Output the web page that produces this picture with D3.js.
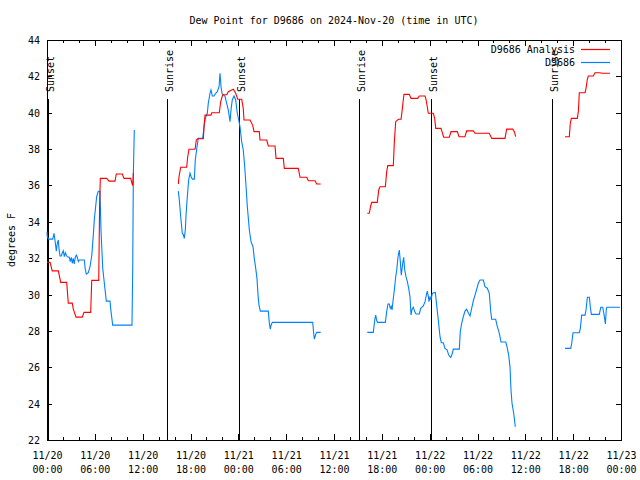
<!DOCTYPE html>
<html><head><meta charset="utf-8">
<script src="https://cdn.jsdelivr.net/npm/d3@7"></script>
<style>
body{margin:0;background:#fff;}
text{font-family:"DejaVu Sans Mono","Liberation Mono",monospace;font-size:10px;fill:#000;}
</style></head>
<body><svg id="c" width="640" height="480"></svg>
<script>
// ---- data (hours since 2024-11-20 00:00 UTC, degrees F) ----
const title = "Dew Point for D9686 on 2024-Nov-20 (time in UTC)";
const yLabel = "degrees F";
const seriesNames = ["D9686 Analysis", "D9686"];
const yTicks = [22,24,26,28,30,32,34,36,38,40,42,44];
const xMajorTicks = [0,6,12,18,24,30,36,42,48,54,60,66,72];
const xMinorTicks = [2,4,8,10,14,16,20,22,26,28,32,34,38,40,44,46,50,52,56,58,62,64,68,70];
const sunEvents = [
  {h:0.12, label:"Sunset"},{h:15.09, label:"Sunrise"},{h:24.12, label:"Sunset"},
  {h:39.18, label:"Sunrise"},{h:48.21, label:"Sunset"},{h:63.31, label:"Sunrise"}
];

const analysisSeg1 = [[0,31.77],[0.38,31.77],[0.66,31.3],[1.42,31.3],[1.72,30.67],[2.47,30.67],[2.67,29.53],[3.17,29.53],[3.3,29.2],[3.64,28.76],[4.43,28.76],[4.64,29.02],[5.48,29.02],[5.61,30.78],[6.49,30.78],[6.6,35.0],[6.69,36.39],[7.49,36.39],[7.78,36.24],[8.53,36.24],[8.69,36.63],[9.45,36.63],[9.66,36.39],[10.5,36.39],[10.66,36.12],[10.75,36.0],[10.83,36.7]];
const analysisSeg2 = [[16.47,36.08],[16.56,36.48],[16.77,37.0],[17.52,37.0],[17.65,37.58],[17.81,37.99],[18.57,37.99],[18.73,38.5],[18.9,38.57],[19.61,38.57],[19.73,39.42],[19.82,39.87],[20.57,39.87],[20.66,40.0],[21.61,40.0],[21.79,40.61],[22.04,40.99],[22.54,40.99],[22.74,41.16],[23.17,41.25],[23.37,41.29],[23.67,41.07],[23.92,40.74],[24.42,40.74],[24.62,40.24],[24.71,39.6],[25.46,39.6],[25.8,39.32],[25.97,38.96],[26.63,38.96],[26.72,38.5],[27.56,38.5],[27.76,38.17],[28.6,38.17],[28.73,37.49],[29.64,37.49],[29.77,36.94],[31.52,36.94],[31.74,36.45],[32.58,36.45],[32.78,36.26],[33.62,36.26],[33.83,36.08],[34.33,36.08]];
const analysisSeg3 = [[40.18,34.47],[40.43,34.47],[40.6,34.87],[40.73,35.07],[41.43,35.07],[41.61,35.75],[41.77,35.93],[42.44,35.93],[42.61,36.76],[42.74,37.09],[43.44,37.09],[43.57,38.41],[43.74,39.51],[44.07,39.64],[44.41,39.64],[44.53,40.06],[44.69,40.7],[44.78,41.01],[45.45,41.01],[45.66,40.79],[46.5,40.79],[46.7,40.92],[47.42,40.92],[47.54,40.74],[47.7,40.33],[47.83,39.97],[48.46,39.97],[48.63,39.69],[48.76,39.14],[49.42,39.14],[49.55,38.96],[49.76,38.65],[50.46,38.65],[50.68,38.96],[51.47,38.96],[51.68,38.68],[52.43,38.68],[52.64,39.0],[53.48,39.0],[53.69,38.87],[55.48,38.87],[55.78,38.59],[57.45,38.59],[57.66,39.1],[58.42,39.1],[58.62,38.96],[58.79,38.68]];
const analysisSeg4 = [[64.98,38.68],[65.52,38.68],[65.64,39.42],[65.77,39.69],[66.52,39.69],[66.65,40.06],[66.77,41.1],[67.49,41.1],[67.61,41.34],[67.78,41.84],[67.9,42.02],[68.53,42.02],[68.74,42.2],[69.37,42.2],[69.58,42.17],[70.62,42.17]];

const obsSeg1 = [[0,33.46],[0.04,33.18],[0.21,33.05],[0.72,33.05],[0.88,33.37],[1.0,33.0],[1.17,32.39],[1.29,32.82],[1.42,33.0],[1.5,32.54],[1.63,32.12],[1.8,32.12],[1.92,32.3],[2.04,32.41],[2.17,32.08],[2.3,32.3],[2.42,32.16],[2.55,32.08],[2.8,32.05],[2.92,31.81],[3.05,32.05],[3.17,31.72],[3.3,31.99],[3.42,31.68],[3.55,32.05],[3.68,32.17],[3.8,32.05],[3.93,31.81],[4.05,31.9],[4.68,31.9],[4.8,31.39],[4.93,31.13],[5.18,31.2],[5.39,31.53],[5.61,32.12],[5.81,33.27],[5.93,34.1],[6.11,34.87],[6.23,35.38],[6.43,35.68],[6.65,35.68],[6.77,33.55],[6.99,31.44],[7.15,30.8],[7.31,30.16],[7.44,29.64],[7.9,29.64],[8.03,29.06],[8.15,28.64],[8.24,28.32],[10.66,28.32],[10.75,31.35],[10.83,36.57],[10.95,39.05]];
const obsSeg2 = [[16.47,35.69],[16.6,35.2],[16.77,34.28],[16.97,33.37],[17.1,33.3],[17.22,33.09],[17.35,33.55],[17.44,34.37],[17.6,35.38],[17.77,36.3],[17.94,36.67],[18.1,36.45],[18.23,36.35],[18.48,36.35],[18.6,37.4],[18.82,38.13],[18.98,38.59],[19.53,38.59],[19.69,39.23],[19.86,39.69],[20.11,39.97],[20.23,40.52],[20.45,41.07],[20.57,41.25],[20.74,40.92],[20.95,40.92],[21.16,41.07],[21.36,41.16],[21.58,41.43],[21.7,42.17],[21.83,41.43],[21.95,41.07],[22.17,40.97],[22.33,40.9],[22.54,40.52],[22.74,40.15],[22.96,39.51],[23.08,40.15],[23.24,40.7],[23.46,40.92],[23.67,40.7],[23.87,39.97],[24.05,39.6],[24.21,39.23],[24.42,38.41],[24.62,37.95],[24.8,37.03],[24.96,36.0],[25.13,34.83],[25.38,33.55],[25.59,32.91],[25.84,32.63],[26.0,31.99],[26.18,31.44],[26.34,30.89],[26.47,29.97],[26.59,29.42],[26.76,29.09],[27.76,29.09],[27.89,28.42],[28.01,28.1],[28.1,28.3],[28.26,28.47],[33.33,28.47],[33.45,27.87],[33.53,27.55],[33.7,27.8],[33.83,27.92],[34.33,27.92]];
const obsSeg3 = [[40.18,27.92],[40.93,27.92],[41.11,28.6],[41.23,28.87],[41.36,28.56],[41.48,28.47],[42.44,28.47],[42.61,29.06],[42.77,29.48],[42.94,29.48],[43.06,29.24],[43.19,29.35],[43.28,29.15],[43.44,29.79],[43.57,30.25],[43.74,30.98],[43.87,31.35],[44.03,32.08],[44.19,32.45],[44.32,31.81],[44.44,31.07],[44.62,31.72],[44.74,32.05],[44.87,31.35],[45.03,30.98],[45.2,30.71],[45.37,30.34],[45.53,29.88],[45.66,28.87],[45.79,29.19],[45.95,29.3],[46.12,29.06],[46.29,28.93],[46.7,28.93],[46.88,29.24],[47.2,29.37],[47.42,29.61],[47.58,29.97],[47.7,30.19],[47.83,29.9],[47.92,29.61],[48.04,29.9],[48.17,29.7],[48.33,30.07],[48.71,30.12],[48.88,29.42],[49.08,28.6],[49.3,27.68],[49.46,27.35],[49.71,27.35],[49.92,27.04],[50.18,26.96],[50.39,26.67],[50.64,26.54],[50.8,26.7],[50.97,27.0],[51.72,27.0],[51.84,27.96],[52.02,28.42],[52.22,28.78],[52.43,29.09],[52.64,29.19],[52.84,29.0],[53.06,28.82],[53.27,29.24],[53.48,29.66],[53.69,29.97],[53.9,30.29],[54.1,30.62],[54.32,30.8],[54.73,30.8],[54.94,30.43],[55.23,30.35],[55.48,30.07],[55.66,29.06],[55.78,28.64],[56.28,28.64],[56.49,28.23],[56.74,27.87],[56.95,27.39],[57.54,27.39],[57.7,27.13],[57.91,26.67],[58.08,26.0],[58.2,24.75],[58.33,24.02],[58.54,23.47],[58.74,22.73]];
const obsSeg4 = [[64.98,27.04],[65.69,27.04],[65.82,27.32],[65.98,27.9],[66.77,27.9],[66.9,28.14],[67.07,28.87],[67.49,28.87],[67.61,29.15],[67.78,29.85],[68.03,29.85],[68.15,29.33],[68.28,28.91],[69.28,28.91],[69.46,29.3],[69.71,29.3],[69.87,28.91],[70.04,28.38],[70.17,29.27],[70.29,29.3],[71.88,29.3]];

const analysisSegments = [analysisSeg1, analysisSeg2, analysisSeg3, analysisSeg4];
const obsSegments = [obsSeg1, obsSeg2, obsSeg3, obsSeg4];
const colors = ["#ff0000", "#0080ff"];

// ---- layout ----
const L = 47, R = 621, T = 40, B = 440;
const svg = d3.select("#c");
const x = d3.scaleLinear().domain([0,72]).range([L,R]);
const y = d3.scaleLinear().domain([22,44]).range([B,T]);

// title
svg.append("text").attr("x",334).attr("y",23.5).attr("text-anchor","middle").text(title);

// axes (ticks point inward, gnuplot style)
function fmtDay(h){ const d = 20 + Math.floor(h/24); return "11/" + d; }
function fmtTime(h){ const hh = h % 24; return (hh<10?"0":"") + hh + ":00"; }

const gxb = svg.append("g").attr("transform",`translate(0,${B})`)
  .call(d3.axisBottom(x).tickValues(xMajorTicks).tickSizeInner(-6).tickSizeOuter(0).tickFormat(""));
const gxbm = svg.append("g").attr("transform",`translate(0,${B})`)
  .call(d3.axisBottom(x).tickValues(xMinorTicks).tickSizeInner(-3).tickSizeOuter(0).tickFormat(""));
const gxt = svg.append("g").attr("transform",`translate(0,${T})`)
  .call(d3.axisTop(x).tickValues(xMajorTicks).tickSizeInner(-6).tickSizeOuter(0).tickFormat(""));
const gxtm = svg.append("g").attr("transform",`translate(0,${T})`)
  .call(d3.axisTop(x).tickValues(xMinorTicks).tickSizeInner(-3).tickSizeOuter(0).tickFormat(""));
const gyl = svg.append("g").attr("transform",`translate(${L},0)`)
  .call(d3.axisLeft(y).tickValues(yTicks).tickSizeInner(-5).tickSizeOuter(0).tickPadding(7));
const gyr = svg.append("g").attr("transform",`translate(${R},0)`)
  .call(d3.axisRight(y).tickValues(yTicks).tickSizeInner(-5).tickSizeOuter(0).tickFormat(""));

[gxb,gxbm,gxt,gxtm,gyl,gyr].forEach(g=>{
  g.select(".domain").remove();
  g.selectAll("line").attr("stroke","#000").attr("shape-rendering","crispEdges");
  g.selectAll("text").attr("font-family",null).attr("font-size",null).attr("fill",null);
});
gyl.selectAll("text").attr("dy","0.35em");

// two-line x labels
gxb.selectAll(".tick").each(function(h){
  const t = d3.select(this).append("text").attr("text-anchor","middle").attr("y",19);
  t.append("tspan").attr("x",0).text(fmtDay(h));
  t.append("tspan").attr("x",0).attr("dy",14).text(fmtTime(h));
});

// frame
svg.append("rect").attr("x",L).attr("y",T).attr("width",R-L).attr("height",B-T)
  .attr("fill","none").attr("stroke","#000").attr("shape-rendering","crispEdges");

// y label
svg.append("text").attr("transform","translate(15,240) rotate(-90)").attr("text-anchor","middle").text(yLabel);

// sun events
const sunTop = T + 59;
sunEvents.forEach(e=>{
  const sx = Math.round(x(e.h)) + 0.5;
  svg.append("line").attr("x1",sx).attr("x2",sx).attr("y1",sunTop).attr("y2",B)
    .attr("stroke","#000").attr("stroke-width",1).attr("shape-rendering","crispEdges");
  svg.append("text").attr("transform",`translate(${sx+5},92) rotate(-90)`).text(e.label);
});

// data lines
const line = d3.line().x(d=>x(d[0])).y(d=>y(d[1]));
obsSegments.forEach(s=>svg.append("path").attr("d",line(s)).attr("fill","none")
  .attr("stroke",colors[1]).attr("stroke-width",1.1).attr("stroke-linejoin","miter"));
analysisSegments.forEach(s=>svg.append("path").attr("d",line(s)).attr("fill","none")
  .attr("stroke",colors[0]).attr("stroke-width",1.1).attr("stroke-linejoin","miter"));

// legend
seriesNames.forEach((n,i)=>{
  const ly = 49 + i*13;
  svg.append("text").attr("x",575).attr("y",ly+3.5).attr("text-anchor","end").text(n);
  svg.append("line").attr("x1",581).attr("x2",610).attr("y1",ly+0.5).attr("y2",ly+0.5)
    .attr("stroke",colors[i]).attr("stroke-width",1.2);
});
</script></body></html>
